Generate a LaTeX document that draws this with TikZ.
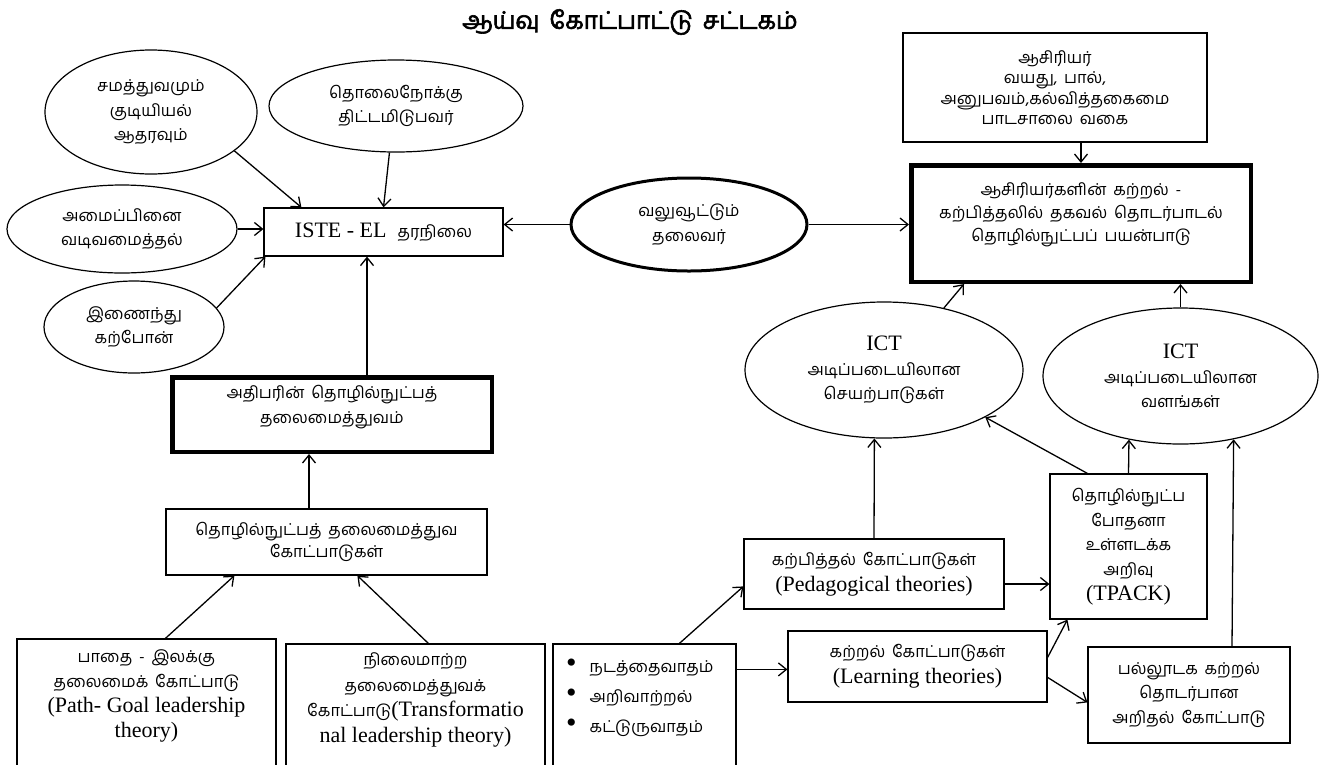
\documentclass[tikz,border=0pt]{standalone}
\usepackage{fontspec}
\setmainfont{Liberation Serif}
\newfontfamily\ta[Script=Tamil,Scale=0.78,WordSpace=1.7]{Hind Madurai}
\newfontfamily\tabold[Script=Tamil,Scale=0.78,WordSpace=1.7,FakeBold=2.5]{Hind Madurai}
\usetikzlibrary{arrows.meta,shapes.geometric,calc}

\begin{document}
\begin{tikzpicture}[x=1pt,y=-1pt,
  every node/.style={font=\fontsize{22}{24.5}\selectfont, align=center, inner sep=0pt},
  tam/.style={font=\fontsize{21}{24.5}\selectfont\ta},
  oval/.style={draw, ellipse, line width=1.2pt},
  box/.style={draw, rectangle, line width=1.2pt},
  heavybox/.style={draw, rectangle, line width=4.5pt},
  arr/.style={-{Straight Barb[length=8pt,width=13pt]}, line width=1.3pt},
]
\newcommand\blt{{\fontsize{30}{30}\selectfont\textbullet}\hspace{13pt}}
\useasboundingbox (0,0) rectangle (1319,764);
\fill[white] (0,0) rectangle (1319,764);
\clip (0,0) rectangle (1319,764);

% heading
\node[font=\fontsize{31}{32}\selectfont\tabold] (title) at (630,22) {ஆய்வு கோட்பாட்டு சட்டகம்};

% ellipses feeding the ISTE standard
\node[oval, tam, minimum width=212pt, minimum height=124pt] (e1) at (151,112) {சமத்துவமும்\\குடியியல்\\ஆதரவும்};
\node[oval, tam, minimum width=254pt, minimum height=92pt] (e2) at (396,106) {தொலைநோக்கு\\திட்டமிடுபவர்};
\node[oval, tam, minimum width=230pt, minimum height=88pt] (e3) at (122,229) {அமைப்பினை\\வடிவமைத்தல்};
\node[oval, tam, minimum width=180pt, minimum height=92pt] (e4) at (134,327) {இணைந்து\\கற்போன்};
\node[box, minimum width=239pt, minimum height=48pt] (iste) at (383.5,232) {ISTE - EL\ \ {\ta\fontsize{21}{24}\selectfont தரநிலை}};

% central enabling leader
\node[oval, tam, line width=3pt, minimum width=236pt, minimum height=93pt] (lead) at (689,224.5) {வலுவூட்டும்\\தலைவர்};

% teacher side
\node[box, font=\fontsize{21}{20.5}\selectfont\ta, minimum width=304pt, minimum height=109pt] (teach) at (1055,87.5) {ஆசிரியர்\\வயது, பால்,\\அனுபவம்,கல்வித்தகைமை\\பாடசாலை வகை};
\node[heavybox, minimum width=339.5pt, minimum height=116.5pt] (use) at (1081,223.5) {};
\node[font=\fontsize{21}{23}\selectfont\ta] (useT) at (1081,215) {ஆசிரியர்களின் கற்றல் -\\கற்பித்தலில் தகவல் தொடர்பாடல்\\தொழில்நுட்பப் பயன்பாடு};

% principal leadership column
\node[heavybox, minimum width=319.5pt, minimum height=74.5pt] (head) at (332,414.5) {};
\node[font=\fontsize{21}{25}\selectfont\ta] (headT) at (332,407.5) {அதிபரின் தொழில்நுட்பத்\\தலைமைத்துவம்};
\node[box, font=\fontsize{21}{22}\selectfont\ta, minimum width=321pt, minimum height=66pt] (tech) at (326.5,542) {தொழில்நுட்பத் தலைமைத்துவ\\கோட்பாடுகள்};

% theory boxes along the bottom
\node[box, minimum width=259pt, minimum height=162pt] (b1) at (146.5,720) {};
\node[font=\fontsize{22}{25}\selectfont] (b1T) at (146.5,695.5) {{\ta\fontsize{21}{25}\selectfont பாதை - இலக்கு}\\{\ta\fontsize{21}{25}\selectfont தலைமைக் கோட்பாடு}\\(Path- Goal leadership\\theory)};
\node[box, minimum width=259pt, minimum height=156pt] (b2) at (415.5,722) {};
\node[font=\fontsize{22}{25.5}\selectfont] (b2T) at (415.5,700) {{\ta\fontsize{21}{25}\selectfont நிலைமாற்ற}\\{\ta\fontsize{21}{25}\selectfont தலைமைத்துவக்}\\{\ta\fontsize{21}{25}\selectfont கோட்பாடு}(Transformatio\\nal leadership theory)};
\node[box, minimum width=183pt, minimum height=156pt] (b3) at (644.5,722) {};
\node[font=\fontsize{21}{30}\selectfont, align=left, anchor=west] (b3T) at (566,698) {\blt{\ta நடத்தைவாதம்}\\\blt{\ta அறிவாற்றல்}\\\blt{\ta கட்டுருவாதம்}};

% ICT side
\node[box, font=\fontsize{22}{26}\selectfont, minimum width=260pt, minimum height=70pt] (pedag) at (874,574) {{\ta\fontsize{21}{26}\selectfont கற்பித்தல் கோட்பாடுகள்}\\(Pedagogical theories)};
\node[box, font=\fontsize{22}{26}\selectfont, minimum width=259pt, minimum height=71pt] (learn) at (917.5,666.5) {{\ta\fontsize{21}{26}\selectfont கற்றல் கோட்பாடுகள்}\\(Learning theories)};
\node[box, font=\fontsize{22}{24.75}\selectfont, minimum width=157pt, minimum height=145pt] (tpack) at (1128.5,546.5) {{\ta\fontsize{21}{24.75}\selectfont தொழில்நுட்ப}\\{\ta\fontsize{21}{24.75}\selectfont போதனா}\\{\ta\fontsize{21}{24.75}\selectfont உள்ளடக்க}\\{\ta\fontsize{21}{24.75}\selectfont அறிவு}\\(TPACK)};
\node[box, tam, minimum width=202pt, minimum height=96pt] (multi) at (1189,695) {பல்லூடக கற்றல்\\தொடர்பான\\அறிதல் கோட்பாடு};
\node[oval, minimum width=278pt, minimum height=136pt] (ictA) at (884,370) {ICT\\{\ta\fontsize{21}{24.5}\selectfont அடிப்படையிலான}\\{\ta\fontsize{21}{24.5}\selectfont செயற்பாடுகள்}};
\node[oval, minimum width=275pt, minimum height=136pt] (ictB) at (1180.5,376) {ICT\\{\ta\fontsize{21}{24.5}\selectfont அடிப்படையிலான}\\{\ta\fontsize{21}{24.5}\selectfont வளங்கள்}};

% connectors
\draw[arr] (e1.-25) -- ([xshift=38pt]iste.north west);
\draw[arr] (e2.-98) -- (iste.north);
\draw[arr] (e3.east) -- (e3.east -| iste.west);
\draw[arr] (e4.13) -- ([xshift=2pt]iste.south west);
\draw[arr] (lead.west) -- (lead.west -| iste.east);
\draw[arr] (lead.east) -- (lead.east -| use.west);
\draw[arr] (use.north |- teach.south) -- (use.north);
\draw[arr] ([xshift=35pt]head.north) -- ([xshift=35pt]head.north |- iste.south);
\draw[arr] ([xshift=-17.5pt]tech.north) -- ([xshift=-17.5pt]tech.north |- head.south);
\draw[arr] ([xshift=149pt]b1.north west) -- ([xshift=69pt]tech.south west);
\draw[arr] ([xshift=143pt]b2.north west) -- ([xshift=192pt]tech.south west);
\draw[arr] ([xshift=127pt]b3.north west) -- ([yshift=-48pt]pedag.north west);
\draw[arr] ([yshift=-26pt]b3.north east) -- ([yshift=-26pt]b3.north east -| learn.west);
\draw[arr] (pedag.north) -- (ictA.-98.4);
\draw[arr] ([yshift=-10pt]pedag.east) -- ([yshift=-10pt]pedag.east -| tpack.west);
\draw[arr] ([yshift=-27pt]learn.north east) -- ([xshift=18pt]tpack.south west);
\draw[arr] ([yshift=-47pt]learn.north east) -- ([yshift=-56pt]multi.north west);
\draw[arr] ([xshift=38pt]tpack.north west) -- (ictA.-25);
\draw[arr] (tpack.north) -- (ictB.-129.5);
\draw[arr] ([xshift=43pt]multi.north) -- (ictB.-50.7);
\draw[arr] (ictA.46) -- ([xshift=55pt]use.south west);
\draw[arr] (ictB.north) -- (ictB.north |- use.south);
\end{tikzpicture}
\end{document}
